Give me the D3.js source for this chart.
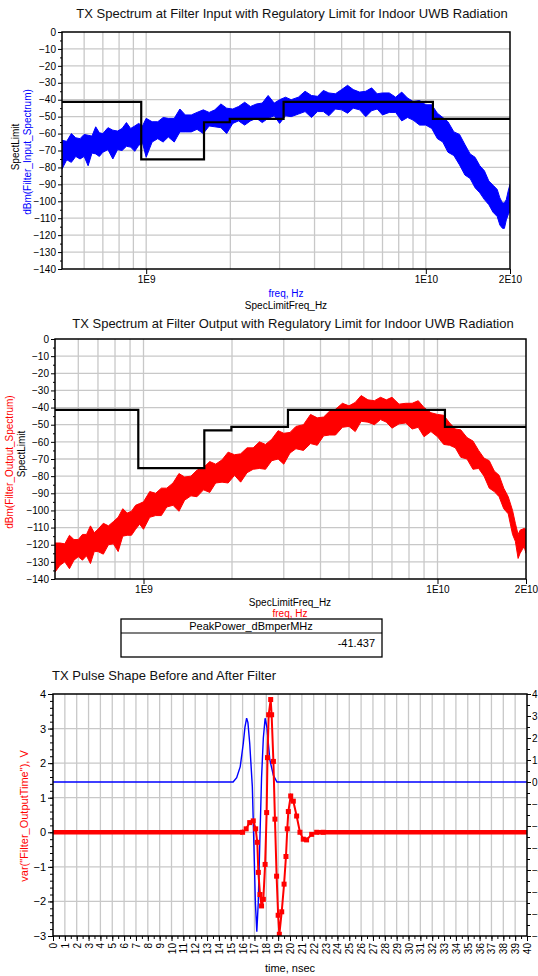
<!DOCTYPE html>
<html><head><meta charset="utf-8">
<script src="https://cdn.jsdelivr.net/npm/d3@7"></script>
<style>
body{margin:0;background:#fff;}
svg{display:block;font-family:Arial,"Liberation Sans",sans-serif;}
</style></head><body>
<svg id="c" width="538" height="976"></svg>
<script>
// ---------------- data ----------------
const specFreqGHz = [
  0.5,0.52,0.54,0.56,0.58,0.6,0.62,0.64,0.66,0.68,
  0.7,0.73,0.76,0.79,0.82,0.85,0.88,0.91,0.94,0.97,
  1.0,1.05,1.1,1.15,1.2,1.26,1.32,1.38,1.45,1.52,
  1.6,1.68,1.76,1.85,1.94,2.04,2.14,2.25,2.36,2.48,
  2.6,2.73,2.87,3.0,3.15,3.3,3.5,3.7,3.9,4.1,
  4.3,4.5,4.75,5.0,5.25,5.5,5.8,6.1,6.4,6.7,
  7.0,7.4,7.8,8.2,8.6,9.0,9.5,10,10.5,11,
  11.5,12,12.6,13.2,13.8,14.4,15,15.6,16.2,16.8,
  17.4,18,18.4,18.8,19.1,19.4,19.7,20];

const inputUpperDbm = [
  -64,-64.6,-60,-62.5,-63,-60.5,-61,-61.5,-56,-59.5,
  -60,-56.5,-58,-58.5,-57,-53.5,-57,-55.5,-54,-55.5,
  -51,-53,-53,-50.5,-51,-51,-45.5,-49,-49,-47.5,
  -46,-47.5,-46,-42.5,-45,-45.5,-44,-41.5,-44,-42.5,
  -42,-37.5,-42,-40,-38.5,-40,-38.5,-35,-37.5,-38,
  -34.5,-36,-36.5,-34,-31.5,-34,-35.5,-35,-33,-36.5,
  -36,-36,-38.5,-35.5,-39,-41,-40.5,-43,-43,-48,
  -50.5,-53,-59,-60.5,-66.5,-72,-74,-79,-82,-88,
  -90.5,-93,-98,-101,-101,-99,-94,-90];
const inputLowerDbm = [
  -81,-75.5,-77,-73.5,-75,-73.5,-79,-71.5,-72,-73.5,
  -71,-69.5,-75,-69.5,-70,-67.5,-68,-70.5,-67,-65.5,
  -74,-65,-63,-65,-62,-65,-59,-59,-59,-57.5,
  -60,-55.5,-56,-56.5,-60,-54,-52.5,-55,-52.5,-51,
  -53.5,-51,-49.5,-54,-49.5,-50,-48.5,-47,-50.5,-47,
  -47,-49.5,-45.5,-46,-48,-45,-46,-50,-46.5,-45.5,
  -49,-47.5,-47.5,-52.5,-50.5,-52,-55,-55,-57,-63,
  -65,-71,-73,-78.5,-84.5,-86.5,-92,-95,-99,-102,
  -106.5,-109,-114,-116,-116,-111,-108,-106];

const outputUpperDbm = [
  -119,-119,-119.5,-114.5,-117,-117,-114,-114,-109,-113,
  -111,-107.5,-109,-106.5,-104,-99,-101.5,-100.5,-97,-96,
  -95,-89,-90,-87,-87,-84,-78.5,-80.5,-80,-76.5,
  -75,-71.5,-73,-70.5,-66,-67.5,-67,-63.5,-63.5,-60,
  -61.5,-58.5,-53.5,-55,-54.5,-51,-50,-44,-46,-45.5,
  -42,-41,-37.5,-39,-37,-33,-35.5,-36,-34,-35.5,
  -34,-38,-37.5,-37.5,-36,-40,-43,-44,-44.5,-49,
  -52.5,-53,-57.5,-59.5,-65,-69.5,-71,-77,-79.5,-87,
  -92,-100,-107.5,-114,-111.5,-111,-110.5,-111];
const outputLowerDbm = [
  -136,-132,-130,-134,-129,-127,-129,-126.5,-131,-124,
  -124,-125.5,-120,-119.5,-124,-115,-114.5,-114.5,-111,-108,
  -111,-104,-103,-103,-98,-97,-100.5,-94,-91.5,-92,
  -88,-89.5,-84,-83.5,-84,-79.5,-83.5,-78,-76,-75.5,
  -76,-71,-70,-73,-66.5,-64,-65,-61,-62,-56.5,
  -56,-56,-51.5,-51,-54,-48,-48.5,-50,-47,-48.5,
  -52,-49.5,-49,-52.5,-51.5,-57,-54,-57,-61.5,-62,
  -63.5,-69,-70,-76,-75.5,-80,-87,-89,-92,-99,
  -102,-114,-118,-128,-125,-123,-121,-125];

const limitFreqHz = [5e8,0.96e9,1.61e9,1.99e9,3.1e9,10.6e9,2e10];
const limitDbm = [-41.3,-75.3,-53.3,-51.3,-41.3,-51.3,-51.3];

const specYTicks = [0,-10,-20,-30,-40,-50,-60,-70,-80,-90,-100,-110,-120,-130,-140];
const freqTickValues = [1e9,1e10,2e10];
const freqTickLabels = ["1E9","1E10","2E10"];
const freqGridHz = [6e8,7e8,8e8,9e8,1e9,2e9,3e9,4e9,5e9,6e9,7e9,8e9,9e9,1e10];

const peakPowerName = "PeakPower_dBmperMHz";
const peakPowerValue = ["-41.437"];

const blueTimeNs = [0,15.2,15.5,15.8,16.06,16.2,16.34,16.45,16.6,16.82,16.95,17.08,17.2,17.32,17.45,17.6,17.75,17.9,18.05,18.3,18.6,18.9,40];
const blueVolts  = [0,0,0.2,0.7,1.76,2.5,2.9,2.7,1.76,-0.2,-2.8,-5.5,-6.8,-5.5,-2.8,0.2,2.0,2.9,2.5,1.0,0.3,0,0];

const redTimeNs = [0,16.0,16.3,16.6,16.9,17.1,17.24,17.33,17.47,17.6,17.75,17.9,18.03,18.1,18.2,18.37,18.45,18.6,18.73,18.87,19.0,19.1,19.3,19.5,19.66,19.77,19.86,20.06,20.28,20.56,20.84,21.12,21.4,21.83,22.25,22.8,40];
const redVolts  = [0,0,0.1,0.28,0.33,0.1,-0.29,-1.16,-1.8,-2.13,-1.94,-0.93,0.57,2.16,3.4,3.84,3.4,2.05,0.38,-1.27,-2.4,-2.95,-2.3,-1.5,-0.7,0.1,0.6,1.05,0.9,0.47,0,-0.2,-0.22,-0.06,0,0,0];

const timeTicks = d3.range(0,41,1);
const leftVTicks = [-3,-2,-1,0,1,2,3,4];
const rightVTicks = [-7,-6,-5,-4,-3,-2,-1,0,1,2,3,4];

// ---------------- drawing ----------------
const svg = d3.select("#c");
const GRID = "#c8c8c8";

function spectrumChart(o){
  const x = d3.scaleLog().domain([5e8,2e10]).range([o.l,o.r]);
  const y = d3.scaleLinear().domain([-140,0]).range([o.b,o.t]);
  const g = svg.append("g");
  const clipId = "clip"+o.id;
  g.append("clipPath").attr("id",clipId).append("rect")
    .attr("x",o.l).attr("y",o.t).attr("width",o.r-o.l).attr("height",o.b-o.t);

  g.append("text").attr("x",o.titleX).attr("y",o.titleY).attr("text-anchor","middle")
    .attr("font-size",13).attr("fill","#111").text(o.title);

  g.selectAll(".vg").data(freqGridHz).join("line")
    .attr("x1",d=>x(d)).attr("x2",d=>x(d)).attr("y1",o.t).attr("y2",o.b)
    .attr("stroke",GRID).attr("stroke-width",1.3);
  g.selectAll(".hg").data(specYTicks.filter(d=>d>-140&&d<0)).join("line")
    .attr("x1",o.l).attr("x2",o.r).attr("y1",d=>y(d)).attr("y2",d=>y(d))
    .attr("stroke",GRID).attr("stroke-width",1.3);

  const rows = specFreqGHz.map((f,i)=>({f:f*1e9,u:o.upper[i],lo:o.lower[i]}));
  g.append("path").datum(rows).attr("clip-path",`url(#${clipId})`)
    .attr("d",d3.area().x(d=>x(d.f)).y0(d=>y(d.lo)).y1(d=>y(d.u)))
    .attr("fill",o.color).attr("stroke",o.color).attr("stroke-width",1)
    .attr("stroke-linejoin","miter");

  const lim = limitFreqHz.map((f,i)=>({f,v:limitDbm[i]}));
  g.append("path").datum(lim).attr("clip-path",`url(#${clipId})`)
    .attr("d",d3.line().x(d=>x(d.f)).y(d=>y(d.v)).curve(d3.curveStepAfter))
    .attr("fill","none").attr("stroke","#000").attr("stroke-width",2.2);

  g.append("rect").attr("x",o.l).attr("y",o.t).attr("width",o.r-o.l).attr("height",o.b-o.t)
    .attr("fill","none").attr("stroke","#000").attr("stroke-width",1.5);

  const ya = g.append("g").attr("transform",`translate(${o.l},0)`)
    .call(d3.axisLeft(y).tickValues(specYTicks).tickSize(4).tickPadding(2).tickFormat(d3.format("d")));
  ya.select(".domain").remove();
  ya.selectAll("text").attr("font-size",10).attr("fill","#000");
  const ym = g.append("g").attr("transform",`translate(${o.l},0)`)
    .call(d3.axisLeft(y).tickValues(specYTicks.slice(0,-1).map(v=>v-5)).tickSize(2).tickFormat(""));
  ym.select(".domain").remove();

  const xa = g.append("g").attr("transform",`translate(0,${o.b})`)
    .call(d3.axisBottom(x).tickValues(freqTickValues).tickSize(5).tickPadding(2)
      .tickFormat((d,i)=>freqTickLabels[i]));
  xa.select(".domain").remove();
  xa.selectAll("text").attr("font-size",10).attr("fill","#000");

  o.xLabels.forEach(l=>{
    g.append("text").attr("x",l.x).attr("y",l.y).attr("text-anchor","middle")
      .attr("font-size",10).attr("fill",l.c).text(l.t);
  });
  o.yLabels.forEach(l=>{
    g.append("text").attr("transform",`translate(${l.x},${l.y}) rotate(-90)`)
      .attr("text-anchor","middle").attr("dominant-baseline","central")
      .attr("font-size",10).attr("fill",l.c).text(l.t);
  });
}

spectrumChart({id:1,l:62,r:510,t:32,b:269,
  title:"TX Spectrum at Filter Input with Regulatory Limit for Indoor UWB Radiation",titleX:292,titleY:18,
  upper:inputUpperDbm,lower:inputLowerDbm,color:"#0000ff",
  xLabels:[{t:"freq, Hz",c:"#0000ff",x:286,y:297},{t:"SpecLimitFreq_Hz",c:"#000",x:286,y:309}],
  yLabels:[{t:"SpectLimit",c:"#000",x:15,y:147},{t:"dBm(Filter_Input_Spectrum)",c:"#0000ff",x:27,y:152}]});

spectrumChart({id:2,l:55,r:526,t:339,b:579,
  title:"TX Spectrum at Filter Output with Regulatory Limit for Indoor UWB Radiation",titleX:293,titleY:328,
  upper:outputUpperDbm,lower:outputLowerDbm,color:"#ff0000",
  xLabels:[{t:"SpecLimitFreq_Hz",c:"#000",x:290,y:606},{t:"freq, Hz",c:"#ff0000",x:290,y:617}],
  yLabels:[{t:"dBm(Filter_Output_Spectrum)",c:"#ff0000",x:9,y:462},{t:"SpectLimit",c:"#000",x:21,y:454}]});

// ---------------- table ----------------
const tb = svg.append("g");
tb.append("rect").attr("x",121).attr("y",619).attr("width",261).attr("height",38)
  .attr("fill","none").attr("stroke","#000").attr("stroke-width",1.3);
tb.append("line").attr("x1",121).attr("x2",382).attr("y1",633).attr("y2",633)
  .attr("stroke","#000").attr("stroke-width",1.2);
tb.append("text").attr("x",251).attr("y",629.5).attr("text-anchor","middle").attr("font-size",11).text(peakPowerName);
tb.selectAll(".v").data(peakPowerValue).join("text").attr("x",375).attr("y",647)
  .attr("text-anchor","end").attr("font-size",11).text(d=>d);

// ---------------- pulse chart ----------------
(function(){
  const L=53,R=527,T=694,B=936;
  const x = d3.scaleLinear().domain([0,40]).range([L,R]);
  const yL = d3.scaleLinear().domain([-3,4]).range([B,T]);
  const yR = d3.scaleLinear().domain([-7,4]).range([B,T]);
  const g = svg.append("g");
  g.append("clipPath").attr("id","clip3").append("rect").attr("x",L).attr("y",T).attr("width",R-L).attr("height",B-T);

  g.append("text").attr("x",52).attr("y",680).attr("font-size",13).attr("fill","#111")
    .text("TX Pulse Shape Before and After Filter");

  g.selectAll(".vg").data(timeTicks.slice(1,-1)).join("line")
    .attr("x1",d=>x(d)).attr("x2",d=>x(d)).attr("y1",T).attr("y2",B)
    .attr("stroke",GRID).attr("stroke-width",1.3);
  g.selectAll(".hg").data(leftVTicks.slice(1,-1)).join("line")
    .attr("x1",L).attr("x2",R).attr("y1",d=>yL(d)).attr("y2",d=>yL(d))
    .attr("stroke",GRID).attr("stroke-width",1.3);

  const blue = blueTimeNs.map((t,i)=>({t,v:blueVolts[i]}));
  g.append("path").datum(blue).attr("clip-path","url(#clip3)")
    .attr("d",d3.line().x(d=>x(d.t)).y(d=>yR(d.v)))
    .attr("fill","none").attr("stroke","#0000ff").attr("stroke-width",1.4);

  const red = redTimeNs.map((t,i)=>({t,v:redVolts[i]}));
  const redLine = d3.line().x(d=>x(d.t)).y(d=>yL(d.v));
  g.append("clipPath").attr("id","clipFlat").selectAll("rect")
    .data([[0,16.0],[22.3,40]]).join("rect")
    .attr("x",d=>x(d[0])).attr("y",T).attr("width",d=>x(d[1])-x(d[0])).attr("height",B-T);
  g.append("path").datum(red).attr("clip-path","url(#clipFlat)")
    .attr("d",redLine).attr("fill","none").attr("stroke","#ff0000").attr("stroke-width",4.5);
  g.append("path").datum(red).attr("clip-path","url(#clip3)")
    .attr("d",redLine).attr("fill","none").attr("stroke","#ff0000").attr("stroke-width",2);
  g.selectAll(".mk").data(red.slice(1,-1)).join("rect").attr("clip-path","url(#clip3)")
    .attr("x",d=>x(d.t)-2.5).attr("y",d=>yL(d.v)-2.5).attr("width",5).attr("height",5)
    .attr("fill","#ff0000");

  g.append("rect").attr("x",L).attr("y",T).attr("width",R-L).attr("height",B-T)
    .attr("fill","none").attr("stroke","#000").attr("stroke-width",1.5);

  const la = g.append("g").attr("transform",`translate(${L},0)`)
    .call(d3.axisLeft(yL).tickValues(leftVTicks).tickSize(5).tickPadding(2).tickFormat(d3.format("d")));
  la.select(".domain").remove();
  la.selectAll("text").attr("font-size",11).attr("fill","#000");
  const lm = g.append("g").attr("transform",`translate(${L},0)`)
    .call(d3.axisLeft(yL).ticks(35).tickSize(3).tickFormat(""));
  lm.select(".domain").remove();

  const ra = g.append("g").attr("transform",`translate(${R},0)`)
    .call(d3.axisRight(yR).tickValues(rightVTicks).tickSize(4).tickPadding(1).tickFormat(d3.format("d")));
  ra.select(".domain").remove();
  ra.selectAll("text").attr("font-size",10).attr("fill","#000");
  const rm = g.append("g").attr("transform",`translate(${R},0)`)
    .call(d3.axisRight(yR).ticks(22).tickSize(3).tickFormat(""));
  rm.select(".domain").remove();

  const ba = g.append("g").attr("transform",`translate(0,${B})`)
    .call(d3.axisBottom(x).tickValues(timeTicks).tickSize(5).tickFormat(d3.format("d")));
  ba.select(".domain").remove();
  ba.selectAll("text").attr("font-size",10).attr("fill","#000")
    .attr("text-anchor","end").attr("dy",null).attr("y",null)
    .attr("dominant-baseline","central")
    .attr("transform","translate(0,7) rotate(-90)");
  const bm = g.append("g").attr("transform",`translate(0,${B})`)
    .call(d3.axisBottom(x).ticks(80).tickSize(3).tickFormat(""));
  bm.select(".domain").remove();

  g.append("text").attr("x",290).attr("y",972).attr("text-anchor","middle").attr("font-size",11)
    .text("time, nsec");
  g.append("text").attr("transform",`translate(24,816) rotate(-90)`).attr("text-anchor","middle")
    .attr("dominant-baseline","central").attr("font-size",11).attr("fill","#ff0000")
    .text('var("Filter_OutputTime"), V');
})();
</script>
</body></html>
